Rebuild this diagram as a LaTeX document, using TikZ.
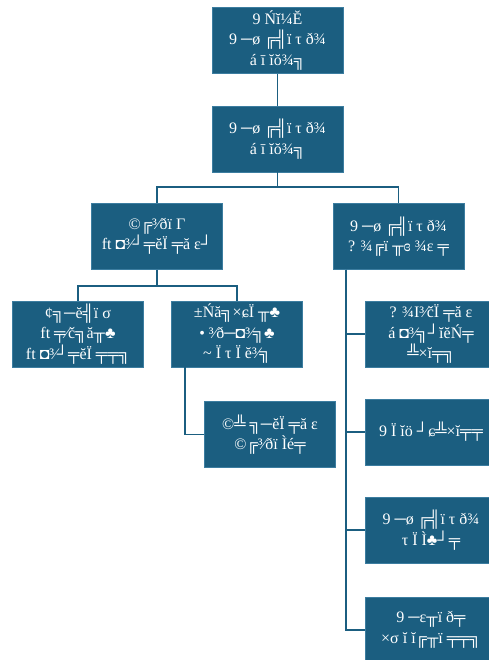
\documentclass[tikz,border=0pt]{standalone}
\usepackage{fontspec}
\setmainfont{Liberation Serif}
\usepackage{tikz}
\usetikzlibrary{positioning}
\definecolor{boxblue}{RGB}{27,94,128}
\definecolor{boxedge}{RGB}{60,125,160}

\begin{document}
\begin{tikzpicture}[x=1pt,y=1pt]
\tikzstyle{every node}=[font=\fontsize{16}{20.5}\selectfont]
\tikzstyle{unit}=[draw=boxedge, fill=boxblue, text=white, align=center,
  minimum width=131, minimum height=66, inner sep=2pt]
\tikzstyle{link}=[draw=boxblue, line width=1.4pt]
\useasboundingbox (0,0) rectangle (488,-660);

% Level 1
\node[unit] (root) at (277.5,-40.5) {9 Ńĭ¼Ĕ\\9 ─ø ╔╣ï τ ð¾\\á ī ĭŏ¾╗};
% Level 2
\node[unit] (sub) at (277.5,-139) {9 ─ø ╔╣ï τ ð¾\\á ī ĭŏ¾╗};
\draw[link] (root) -- (sub);
% Level 3
\node[unit] (left) at (157,-236.5) {©╔³⁄ðï Γ\\ft ◘³⁄┘╤ĕÏ ╤ă ɛ┘};
\node[unit] (right) at (398.5,-236.5) {9 ─ø ╔╣ï τ ð¾\\? ¾╔ï ╥ɞ ¾ɛ ╤};
\coordinate (j1) at (277.5,-187);
\draw[link] (sub) -- (j1);
\draw[link] (j1) -| (left);
\draw[link] (j1) -| (right);
% Level 4, left
\node[unit] (ll) at (78,-334) {¢╗─ĕ╣ï σ\\ft ╤⁄č╗ă╥♣\\ft ◘³⁄┘╤ĕÏ ╤╤╗};
\node[unit] (lr) at (237,-334) {±Ńă╗×ɕÏ ╥♣\\• ³⁄ð─◘³⁄╗♣\\\textasciitilde\ Ï τ Ï ĕ³⁄╗};
\coordinate (j2) at (157,-286);
\draw[link] (left) -- (j2);
\draw[link] (j2) -| (ll);
\draw[link] (j2) -| (lr);
% Level 5
\node[unit] (lrc) at (270,-434.5) {©╩ ╗─ĕÏ ╤ă ɛ\\©╔³⁄ðï Ìé╤};
\coordinate (lt) at (185,-367);
\draw[link] (lt) |- (lrc);
% Level 4, right
\foreach \y/\name/\txt in {-334/r1/{? ¾I³⁄čÏ ╤ă ɛ\\á ◘³⁄╗┘ĭĕŃ╤\\╩×ĭ╤╗},
    -432/r2/{9 Ï ĭö ┘ɕ╩×ĭ╤╤},
    -530/r3/{9 ─ø ╔╣ï τ ð¾\\τ Ï Ì♣┘╤},
    -630/r4/{9 ─ɛ╥ï ð╤\\×σ ĭ ĭ╔╥ï ╤╤╗}}
  \node[unit] (\name) at (431,\y) {\txt};
\coordinate (rt) at (346,-269.5);
\foreach \name in {r1,r2,r3,r4}
  \draw[link] (rt) |- (\name);
\end{tikzpicture}
\end{document}
